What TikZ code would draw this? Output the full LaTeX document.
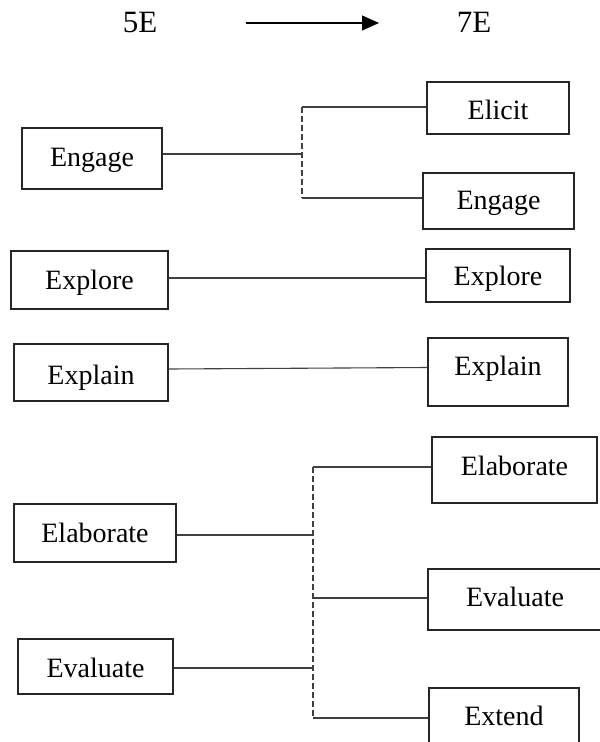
\documentclass[tikz,border=0pt]{standalone}
\usepackage{fontspec}
\setmainfont{Liberation Serif}
\usetikzlibrary{arrows.meta}
\begin{document}
\begin{tikzpicture}[x=1pt,y=-1pt,
  box/.style={draw=black!85, line width=1.3pt, inner sep=0pt, text height=12pt, text depth=12pt,
    font=\fontsize{28}{30}\selectfont},
  conn/.style={draw=black!75, line width=1.1pt},
  dconn/.style={draw=black!75, line width=1.1pt, dash pattern=on 6pt off 3pt},
  ttl/.style={font=\fontsize{31}{34}\selectfont, inner sep=0pt}]
\useasboundingbox (0,0) rectangle (600,742);
\clip (0,0) rectangle (600,742);
% titles
\node[ttl] (t5) at (140,22) {5E};
\node[ttl] (t7) at (474,22) {7E};
\coordinate (a1) at (246,23);
\coordinate (a2) at (379,23);
\draw[line width=1.2pt, -{Triangle[length=17pt,width=15pt]}] (a1) -- (a2);
% left boxes
\node[box, minimum width=140, minimum height=61] (L1) at (92,158.5) {\raisebox{-7.75pt}{Engage}};
\node[box, minimum width=157, minimum height=58] (L2) at (89.5,280) {\raisebox{-9.25pt}{Explore}};
\node[box, minimum width=154, minimum height=57] (L3) at (91,372.5) {\raisebox{-12pt}{Explain}};
\node[box, minimum width=162, minimum height=58] (L4) at (95,533) {\raisebox{-9.25pt}{Elaborate}};
\node[box, minimum width=155, minimum height=55] (L5) at (95.5,666.5) {\raisebox{-10.75pt}{Evaluate}};
% right boxes
\node[box, minimum width=142, minimum height=52] (R1) at (498,108) {\raisebox{-11.25pt}{Elicit}};
\node[box, minimum width=151, minimum height=56] (R2) at (498.5,201) {\raisebox{-8.75pt}{Engage}};
\node[box, minimum width=144, minimum height=53] (R3) at (498,275.5) {\raisebox{-10.25pt}{Explore}};
\node[box, minimum width=140, minimum height=68] (R4) at (498,372) {\raisebox{-3.75pt}{Explain}};
\node[box, minimum width=165, minimum height=66] (R5) at (514.5,470) {\raisebox{-5.75pt}{Elaborate}};
\node[box, minimum width=174, minimum height=61] (R6) at (515,599.5) {\raisebox{-6.75pt}{Evaluate}};
\node[box, minimum width=150, minimum height=60] (R7) at (504,718) {\raisebox{-7.25pt}{Extend}};
% top branch
\coordinate (ja) at (302,107);
\coordinate (jb) at (302,198);
\coordinate (j1) at (302,154);
\draw[conn] (j1 -| L1.east) -- (j1);
\draw[dconn] (ja) -- (jb);
\draw[conn] (ja) -- (ja -| R1.west);
\draw[conn] (jb) -- (jb -| R2.west);
% straight links
\coordinate (k0) at (300,278);
\draw[conn] (k0 -| L2.east) -- (k0 -| R3.west);
\coordinate (k1) at (300,369);
\coordinate (k2) at (300,367.5);
\draw[conn] (k1 -| L3.east) -- (k2 -| R4.west);
% bottom branch
\coordinate (jc) at (313,467);
\coordinate (jd) at (313,718);
\coordinate (je) at (313,535);
\coordinate (jf) at (313,598);
\coordinate (jg) at (313,668);
\draw[dconn] (jc) -- (jd);
\draw[conn] (je -| L4.east) -- (je);
\draw[conn] (jg -| L5.east) -- (jg);
\draw[conn] (jc) -- (jc -| R5.west);
\draw[conn] (jf) -- (jf -| R6.west);
\draw[conn] (jd) -- (jd -| R7.west);
\end{tikzpicture}
\end{document}
